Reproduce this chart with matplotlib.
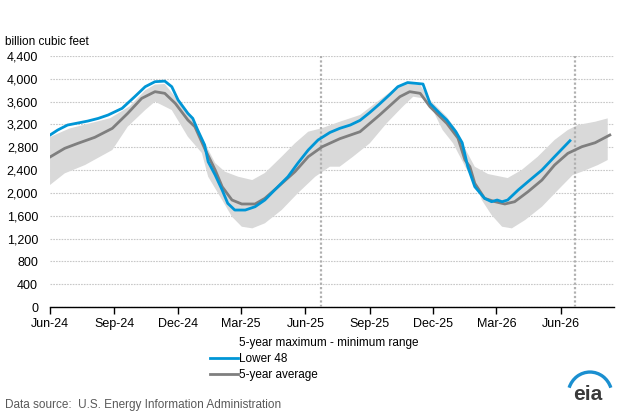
import matplotlib
matplotlib.use("Agg")
import matplotlib.pyplot as plt
import matplotlib.dates as mdates
from matplotlib.lines import Line2D
from matplotlib.patches import Patch, Arc
from matplotlib.ticker import FuncFormatter, MultipleLocator
import numpy as np
import pandas as pd

plt.rcParams['font.family'] = ['Liberation Sans', 'DejaVu Sans']

# weekly working gas in storage, billion cubic feet
lower48_dates = ['2024-06-01', '2024-06-12', '2024-06-26', '2024-07-25', '2024-08-09', '2024-08-23',
                 '2024-09-12', '2024-09-30', '2024-10-15', '2024-10-29', '2024-11-12', '2024-11-22',
                 '2024-12-01', '2024-12-15', '2024-12-22', '2024-12-29', '2025-01-08', '2025-01-13',
                 '2025-01-23', '2025-02-02', '2025-02-10', '2025-02-20', '2025-03-07', '2025-03-21',
                 '2025-04-04', '2025-04-18', '2025-05-07', '2025-05-21', '2025-06-05', '2025-06-19',
                 '2025-07-06', '2025-07-20', '2025-08-04', '2025-08-18', '2025-09-01', '2025-09-15',
                 '2025-09-30', '2025-10-11', '2025-10-25', '2025-11-16', '2025-11-26', '2025-12-10',
                 '2025-12-20', '2026-01-02', '2026-01-11', '2026-01-19', '2026-01-29', '2026-02-12',
                 '2026-02-22', '2026-03-02', '2026-03-09', '2026-03-17', '2026-04-01', '2026-04-15',
                 '2026-05-05', '2026-05-23', '2026-06-14']
lower48_vals = [3015, 3103, 3190, 3260, 3307, 3366,
                3483, 3687, 3862, 3950, 3960, 3862,
                3629, 3395, 3307, 3103, 2840, 2547,
                2314, 2051, 1817, 1700, 1700, 1758,
                1876, 2051, 2284, 2519, 2752, 2928,
                3060, 3132, 3190, 3272, 3410, 3560,
                3730, 3862, 3935, 3909, 3570, 3395,
                3278, 3073, 2880, 2460, 2109, 1905,
                1846, 1876, 1846, 1876, 2051, 2197,
                2402, 2635, 2915]

avg_dates = ['2024-06-01', '2024-06-22', '2024-07-11', '2024-08-04', '2024-08-29', '2024-09-20',
             '2024-10-10', '2024-10-29', '2024-11-12', '2024-11-27', '2024-12-15', '2024-12-25',
             '2025-01-08', '2025-01-23', '2025-02-02', '2025-02-16', '2025-03-02', '2025-03-21',
             '2025-04-04', '2025-04-23', '2025-05-17', '2025-06-05', '2025-06-25', '2025-07-20',
             '2025-08-18', '2025-09-15', '2025-10-14', '2025-10-28', '2025-11-12', '2025-11-26',
             '2025-12-20', '2026-01-05', '2026-01-15', '2026-01-22', '2026-01-29', '2026-02-12',
             '2026-02-27', '2026-03-13', '2026-03-27', '2026-04-15', '2026-05-05', '2026-05-23',
             '2026-06-11', '2026-07-01', '2026-07-20', '2026-08-10']
avg_vals = [2630, 2782, 2870, 2975, 3132, 3395,
            3658, 3775, 3746, 3570, 3278, 3161,
            2780, 2402, 2109, 1876, 1806, 1806,
            1905, 2109, 2372, 2635, 2810, 2950,
            3073, 3366, 3687, 3775, 3746, 3511,
            3220, 2960, 2577, 2460, 2168, 1905,
            1846, 1806, 1846, 2021, 2226, 2489,
            2694, 2810, 2880, 3015]

max_dates = ['2024-06-01', '2024-06-29', '2024-07-28', '2024-08-26', '2024-09-23', '2024-10-15',
             '2024-10-29', '2024-11-12', '2024-12-01', '2024-12-25', '2025-01-08', '2025-01-23',
             '2025-02-06', '2025-02-25', '2025-03-17', '2025-04-04', '2025-04-28', '2025-05-17',
             '2025-06-05', '2025-06-25', '2025-07-20', '2025-08-18', '2025-09-15', '2025-10-10',
             '2025-10-25', '2025-11-12', '2025-11-26', '2025-12-20', '2026-01-01', '2026-01-12',
             '2026-01-29', '2026-02-17', '2026-03-03', '2026-03-17', '2026-04-06', '2026-04-29',
             '2026-05-23', '2026-06-11', '2026-06-25', '2026-07-20', '2026-08-07']
max_vals = [2980, 3130, 3220, 3310, 3520, 3800,
            3900, 3910, 3620, 3250, 2880, 2524,
            2372, 2284, 2226, 2349, 2635, 2870,
            3073, 3137, 3248, 3366, 3629, 3862,
            3921, 3892, 3629, 3336, 3132, 2850,
            2460, 2331, 2296, 2261, 2402, 2635,
            2928, 3103, 3190, 3248, 3307]

min_dates = ['2024-06-01', '2024-06-22', '2024-07-21', '2024-08-29', '2024-09-20', '2024-10-15',
             '2024-10-29', '2024-11-22', '2024-12-15', '2025-01-04', '2025-01-13', '2025-02-02',
             '2025-02-16', '2025-03-02', '2025-03-17', '2025-04-04', '2025-04-28', '2025-05-21',
             '2025-06-15', '2025-07-06', '2025-07-20', '2025-08-08', '2025-09-01', '2025-09-25',
             '2025-10-18', '2025-11-02', '2025-11-16', '2025-11-30', '2025-12-14', '2025-12-29',
             '2026-01-18', '2026-02-01', '2026-02-08', '2026-02-22', '2026-03-09', '2026-03-23',
             '2026-04-11', '2026-05-05', '2026-05-28', '2026-06-18', '2026-07-01', '2026-07-24',
             '2026-08-07']
min_vals = [2139, 2343, 2489, 2752, 3161, 3453,
            3600, 3453, 2985, 2700, 2284, 1876,
            1583, 1408, 1379, 1467, 1700, 1993,
            2284, 2460, 2460, 2635, 2870, 3220,
            3511, 3687, 3658, 3453, 3103, 2870,
            2400, 2109, 1876, 1613, 1408, 1379,
            1525, 1758, 2051, 2314, 2372, 2489,
            2577]

marker_dates = ['2025-06-23', '2026-06-21']

blue = '#0096d6'
grey = '#7f7f7f'

fig = plt.figure(figsize=(6.23, 4.15), dpi=100)
ax = fig.add_axes([0.0803, 0.2602, 0.9053, 0.6048])

# 5-year max/min band as one polygon
mx = mdates.date2num(pd.to_datetime(max_dates))
mn = mdates.date2num(pd.to_datetime(min_dates))
band_x = np.concatenate([mx, mn[::-1]])
band_y = np.concatenate([max_vals, min_vals[::-1]])
ax.fill(band_x, band_y, color='#d9d9d9', lw=0, zorder=2)

ax.plot(pd.to_datetime(avg_dates), avg_vals, color=grey, lw=2.0, zorder=4)
ax.plot(pd.to_datetime(lower48_dates), lower48_vals, color=blue, lw=2.0, zorder=5)

for d in marker_dates:
    ax.axvline(pd.Timestamp(d), color='#b0b0b0', lw=1.6, ls=(0, (1, 1)), zorder=3)

ax.set_ylim(0, 4400)
ax.yaxis.set_major_locator(MultipleLocator(400))
ax.yaxis.set_major_formatter(FuncFormatter(lambda v, p: f'{int(v):,}'))
ax.set_xlim(pd.Timestamp('2024-06-01'), pd.Timestamp('2026-08-16'))
ax.xaxis.set_major_locator(mdates.MonthLocator(bymonth=[3, 6, 9, 12]))
ax.xaxis.set_major_formatter(mdates.DateFormatter('%b-%y'))

ax.grid(axis='y', color='#c8c8c8', lw=0.8, ls=(0, (1.5, 1)), zorder=1)
ax.set_axisbelow(True)
for s in ['top', 'right', 'left']:
    ax.spines[s].set_visible(False)
ax.spines['bottom'].set_color('black')
ax.spines['bottom'].set_linewidth(1.0)
ax.tick_params(axis='y', length=0, labelsize=9, pad=8.6)
ax.tick_params(axis='x', length=5, width=1, direction='out', labelsize=9, pad=3)

fig.text(0.008, 0.898, 'billion cubic feet', fontsize=8.5, ha='left', va='center')

handles = [Patch(facecolor='none', edgecolor='none'),
           Line2D([], [], color=blue, lw=2.0),
           Line2D([], [], color=grey, lw=2.0)]
labels = ['5-year maximum - minimum range', 'Lower 48', '5-year average']
fig.legend(handles, labels, loc='upper left', bbox_to_anchor=(0.337, 0.188),
           frameon=False, fontsize=8.5, handlelength=2.4, handletextpad=0.1,
           labelspacing=0.35, borderpad=0, borderaxespad=0)

fig.text(0.008, 0.025, 'Data source:  U.S. Energy Information Administration',
         fontsize=8.5, color='#595959', ha='left', va='center')

# eia logo
fig.text(0.944, 0.036, 'eia', fontsize=15, weight='bold', color='#3a3a3a',
         ha='center', va='baseline')
logo = Arc((0.947, 0.048), 0.0706, 0.111, theta1=28, theta2=152,
           transform=fig.transFigure, color='#1a8fd0', lw=2.4)
fig.patches.append(logo)

fig.savefig('out.png', dpi=100)
